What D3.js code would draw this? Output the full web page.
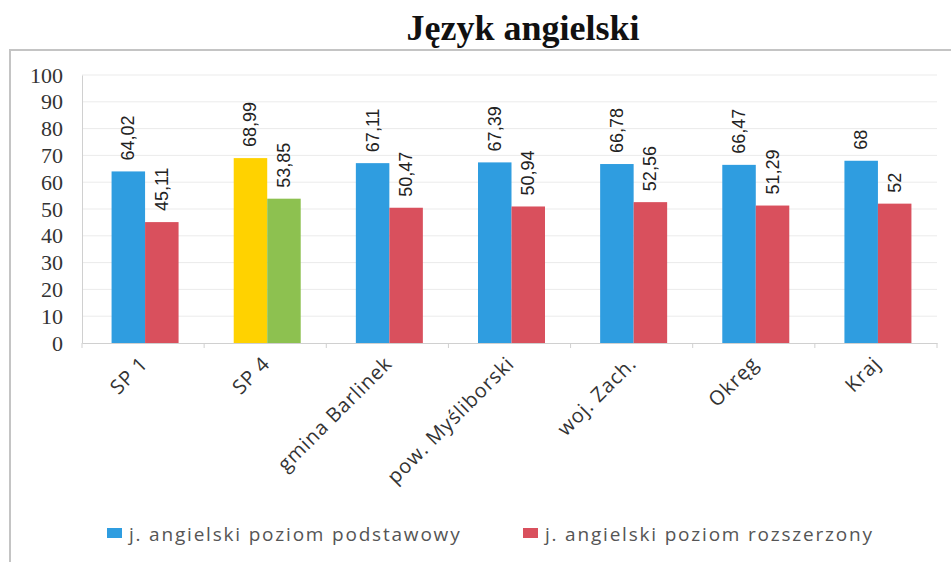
<!DOCTYPE html>
<html>
<head>
<meta charset="utf-8">
<script src="https://cdn.jsdelivr.net/npm/d3@7"></script>
<style>
  html, body { margin: 0; padding: 0; background: #fff; }
  svg { display: block; }
  .ytick { font-family: "Liberation Serif", "Times New Roman", serif; font-size: 22px; }
</style>
</head>
<body>
<svg id="chart" width="951" height="562"></svg>
<script>
const title = "Język angielski";
const categories = ["SP 1", "SP 4", "gmina Barlinek", "pow. Myśliborski", "woj. Zach.", "Okręg", "Kraj"];
const seriesNames = ["j. angielski poziom podstawowy", "j. angielski poziom rozszerzony"];
const podstawowy = [64.02, 68.99, 67.11, 67.39, 66.78, 66.47, 68];
const rozszerzony = [45.11, 53.85, 50.47, 50.94, 52.56, 51.29, 52];
const valueLabels1 = ["64,02", "68,99", "67,11", "67,39", "66,78", "66,47", "68"];
const valueLabels2 = ["45,11", "53,85", "50,47", "50,94", "52,56", "51,29", "52"];
const yTicks = [0, 10, 20, 30, 40, 50, 60, 70, 80, 90, 100];
const seriesColors = ["#2f9de0", "#d9505d"];
const highlightCategory = "SP 4";
const highlightColors = ["#ffd200", "#8dc150"];

const svg = d3.select("#chart");

// frame
svg.append("path")
  .attr("d", "M10,562 L10,50 L951,50")
  .attr("fill", "none").attr("stroke", "#c4c4c4").attr("stroke-width", 2);

// title
svg.append("text")
  .attr("x", 523).attr("y", 40)
  .attr("text-anchor", "middle")
  .style("font-family", "'Liberation Serif', 'Times New Roman', serif")
  .style("font-weight", "bold").style("font-size", "36px")
  .attr("fill", "#111")
  .text(title);

const plot = { left: 82, right: 937, top: 75, bottom: 343 };
const y = d3.scaleLinear().domain([0, 100]).range([plot.bottom, plot.top]);
const x0 = d3.scaleBand().domain(categories).range([plot.left, plot.right]).padding(0);
const bw = x0.bandwidth();
const groupW = 67;
const x1 = d3.scaleBand().domain([0, 1]).range([(bw - groupW) / 2 + 2, (bw + groupW) / 2 + 2]).padding(0);

// gridlines
svg.append("g").selectAll("line").data(yTicks.filter(d => d > 0)).join("line")
  .attr("x1", plot.left).attr("x2", plot.right)
  .attr("y1", d => y(d)).attr("y2", d => y(d))
  .attr("stroke", "#ebebeb").attr("stroke-width", 1);

// y axis
const yAxis = d3.axisLeft(y).tickValues(yTicks).tickSize(0).tickPadding(19);
const gy = svg.append("g").attr("transform", `translate(${plot.left},0)`).call(yAxis);
gy.attr("font-family", null).attr("font-size", null);
gy.select(".domain").attr("stroke", "#d0d0d0");
gy.selectAll("text")
  .attr("class", "ytick")
  .attr("font-family", "Liberation Serif")
  .attr("fill", "#333");

// x axis
const xAxis = d3.axisBottom(x0).tickSize(0).tickFormat("");
const gx = svg.append("g").attr("transform", `translate(0,${plot.bottom})`).call(xAxis);
gx.select(".domain").attr("stroke", "#d0d0d0");
// boundary ticks
const bounds = categories.map(c => x0(c)).concat([plot.right]);
svg.append("g").selectAll("line").data(bounds).join("line")
  .attr("x1", d => d).attr("x2", d => d)
  .attr("y1", plot.bottom).attr("y2", plot.bottom + 5)
  .attr("stroke", "#d0d0d0");

// category labels
svg.append("g").selectAll("text").data(categories).join("text")
  .attr("transform", d => `translate(${x0(d) + bw / 2 + 6},${plot.bottom + 22}) rotate(-45)`)
  .attr("text-anchor", "end")
  .style("font-family", "'Open Sans', 'Noto Sans', sans-serif")
  .style("font-size", "20px").style("letter-spacing", "0.9px").attr("fill", "#333")
  .text(d => d);

// bars
const series = [podstawowy, rozszerzony];
const labels = [valueLabels1, valueLabels2];
series.forEach((vals, si) => {
  const g = svg.append("g");
  g.selectAll("rect").data(categories).join("rect")
    .attr("x", d => x0(d) + x1(si))
    .attr("width", x1.bandwidth())
    .attr("y", (d, i) => y(vals[i]))
    .attr("height", (d, i) => y(0) - y(vals[i]))
    .attr("fill", d => d === highlightCategory ? highlightColors[si] : seriesColors[si]);
  g.selectAll("text").data(categories).join("text")
    .attr("transform", (d, i) => `translate(${x0(d) + x1(si) + x1.bandwidth() / 2 + 6},${y(vals[i]) - 11}) rotate(-90)`)
    .attr("text-anchor", "start")
    .style("font-family", "'Liberation Sans', Arial, sans-serif")
    .style("font-size", "18px").attr("fill", "#222")
    .text((d, i) => labels[si][i]);
});

// legend
const legendX = [107, 523];
const lg = svg.append("g");
seriesNames.forEach((name, i) => {
  lg.append("rect")
    .attr("x", legendX[i]).attr("y", 528)
    .attr("width", 15).attr("height", 10)
    .attr("fill", seriesColors[i]);
  lg.append("text")
    .attr("x", legendX[i] + 22).attr("y", 541)
    .style("font-family", "'Open Sans', 'Noto Sans', sans-serif")
    .style("font-size", "19px").style("letter-spacing", "1.8px")
    .attr("fill", "#555")
    .text(name);
});
</script>
</body>
</html>
